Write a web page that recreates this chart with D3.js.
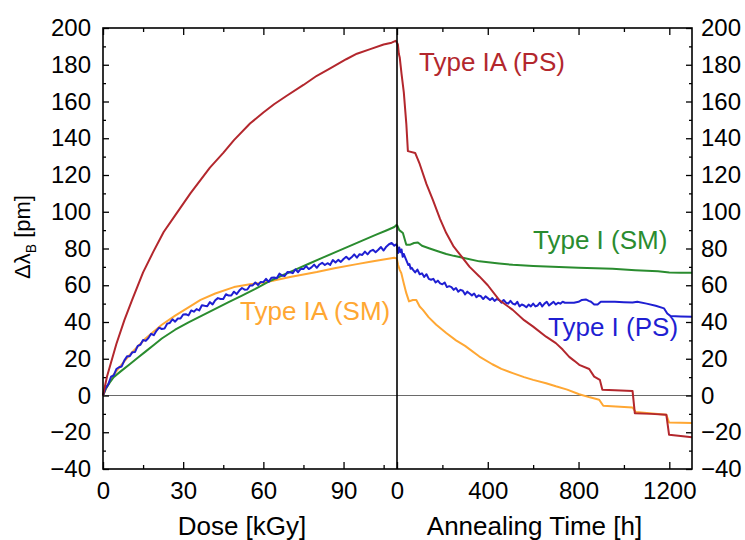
<!DOCTYPE html>
<html>
<head>
<meta charset="utf-8">
<script src="https://cdn.jsdelivr.net/npm/d3@7"></script>
<style>
  body { margin: 0; background: #fff; }
  text { font-family: "Liberation Sans", Arial, Helvetica, sans-serif; }
</style>
</head>
<body>
<div id="chart"></div>
<script>
// ---- data ----
// irradiation: [dose kGy, shift pm]
const redIrr = [[0,0],[1.5,10.3],[5,28],[8,41],[10.9,52],[15,67],[18.75,78],[22.7,89],[27,98],[32.7,110],
  [40,124],[45,132],[49,139],[55,148],[60,154],[64,158.5],[68.6,163],[75,169],[80,174],[85,178],[91,183],
  [95,186],[100,188.5],[105,191],[108,192],[109.5,193],[110,192]];
const greenIrr = [[0,0],[1,3.5],[2.5,7],[4,10],[6.5,13],[10,17],[13,20.5],[16,24],[19,27.5],[22,31],[27,35.8],
  [32,39.8],[37,43.5],[42,47.2],[47,50.8],[52,54.4],[57,58],[62,62],[67,65.3],[72,68.5],[77,71.7],[82,74.9],
  [87,78],[92,81.2],[97,84.3],[102,87.4],[106,89.8],[109,91.7],[110,93]];
const orangeIrr = [[0,0],[0.9,3],[3.4,10.3],[6.5,16],[9.6,21.5],[15.9,31],[22,38.5],[27,43.5],[32,48],
  [36.5,52],[42,55.5],[49,59],[55,60.5],[60.5,61.5],[70,64.5],[80,67.2],[86.6,69.3],[95,71.5],[100,72.8],
  [105,74],[109,75],[110,74.5]];
// Type I (PS) irradiation, one (noisy) reading per kGy from 0 to 110
const blueIrrVals = [0,4.0,6.2,10.2,10.9,14.4,15.4,15.8,19.1,21.3,21.4,23.6,23.7,27.0,27.6,30.2,29.7,31.3,
  33.6,32.8,35.2,36.9,36.2,36.4,39.1,39.5,41.5,40.2,41.9,41.9,44.1,44.2,43.6,46.3,45.6,47.0,46.3,49.1,48.8,
  48.6,50.8,49.6,51.8,53.0,52.5,52.5,55.1,54.4,54.4,56.5,55.2,57.1,58.5,57.6,57.7,59.9,59.9,61.5,60.1,61.8,
  61.7,63.5,61.9,64.1,64.2,63.8,66.3,65.3,65.0,67.2,67.1,66.6,68.7,67.1,68.9,68.8,70.4,68.8,69.7,71.2,69.5,
  71.3,72.2,71.0,72.0,71.1,73.7,72.4,73.8,72.7,74.3,75.5,74.1,75.2,76.8,75.0,76.9,76.5,78.3,76.8,78.6,79.3,
  78.0,79.3,80.8,78.9,81.0,82.3,83.0,81.5,82.5];

// annealing: [time h, shift pm]
const redAnn = [[0,192],[4,191],[8,186],[12,184],[20,175],[30,165],[41,148],[48,133],[80,132],[100,126],
  [130,115],[158,106.5],[190,96],[217,88.4],[250,81],[276,77],[320,70],[363,64.8],[400,60],[450,52],
  [510,46.6],[560,41],[600,37.5],[657,32],[700,28.5],[730,25],[759,21],[780,19],[803,16.7],[847,14.4],
  [869,10.3],[894,8.5],[905,3.1],[960,2.8],[1038,2.5],[1048,-9.6],[1120,-10],[1187,-10.5],[1199,-21.4],
  [1250,-22],[1300,-22.7]];
const greenAnn = [[0,92.9],[10,90],[26,88.4],[41,82],[48,82],[56,82],[75,83],[92,83.3],[110,81.5],[144,80],
  [180,78.5],[217,77],[250,76],[290,75],[363,73],[450,71.8],[510,71.1],[600,70.5],[657,70.2],[800,69.5],
  [950,69],[1050,68.2],[1150,67.6],[1200,67],[1250,66.8],[1300,66.8]];
const orangeAnn = [[0,74],[5,71],[12,68.4],[19,66.6],[30,61],[41,55.7],[53,51.2],[70,52],[85,52],[100,48.4],
  [114,46.6],[140,42.5],[173,38.5],[217,34],[260,30],[300,27],[363,21.2],[420,17],[460,14.5],[510,12.2],
  [560,10],[600,8.5],[657,6.7],[700,5],[750,3.2],[803,0.7],[850,-1],[891,-2.3],[909,-5.6],[1038,-6.5],
  [1052,-9],[1187,-10.5],[1199,-14.7],[1300,-15]];
const blueAnn = [[0,82],[5,77.5],[10,80.5],[15,78],[20,79.5],[25,75.5],[30,77],[35,75.5],[40,74],[45,72.5],
  [50,71],[55,71.5],[60,69],[65,69.5],[70,68.5],[80,67],[90,68.5],[100,66],[110,66.5],[120,64.5],[130,66],
  [140,63.5],[150,63],[160,63.5],[170,61.5],[180,62.5],[190,61],[200,60.5],[210,61.5],[220,59],[230,59.5],
  [240,59],[250,57.5],[260,58.5],[270,56.5],[280,57.5],[290,57],[300,55],[310,56.5],[320,55.5],[330,54.5],
  [340,55.5],[350,53.5],[360,54.5],[370,54],[380,52.5],[390,54],[400,53],[410,52],[420,53],[430,51.5],
  [440,52.5],[450,52],[460,50.5],[470,52],[480,50.5],[490,50],[500,51.5],[510,50],[520,49.5],[530,51],
  [540,48.5],[550,49.5],[560,49],[570,48],[580,49.5],[590,48.5],[600,50],[610,48.5],[620,49],[630,50.5],
  [640,48.5],[650,50],[660,51],[670,49],[680,50],[690,51],[700,49.5],[710,50.5],[720,50],[730,51],[740,50.5],
  [760,50.5],[780,50.5],[800,51],[815,52],[832,52.3],[845,51.5],[855,51],[869,49.5],[884,49.5],[898,51],
  [920,51],[960,51],[1000,50.8],[1038,50.6],[1059,51],[1100,50],[1140,48.8],[1177,47.4],[1191,44.6],
  [1206,43.2],[1250,43],[1300,42.8]];

const doseMajor = [0, 30, 60, 90], doseMinor = [15, 45, 75, 105];
const timeMajor = [0, 400, 800, 1200], timeMinor = [200, 600, 1000];
const yMajor = [-40, -20, 0, 20, 40, 60, 80, 100, 120, 140, 160, 180, 200];
const yMinor = [-30, -10, 10, 30, 50, 70, 90, 110, 130, 150, 170, 190];

const colors = { red: "#b3272d", green: "#2a8c2f", orange: "#ffa733", blue: "#1f1fd2" };

// ---- layout ----
const W = 745, H = 540;
const plotLeft = 103, plotMid = 397, plotRight = 692, plotTop = 28, plotBottom = 469;

const xDose = d3.scaleLinear().domain([0, 110]).range([plotLeft, plotMid]);
const xTime = d3.scaleLinear().domain([0, 1300]).range([plotMid, plotRight]);
const y = d3.scaleLinear().domain([-40, 200]).range([plotBottom, plotTop]);
const fmt = d3.format("d");

const svg = d3.select("#chart").append("svg")
    .attr("width", W)
    .attr("height", H);

// zero line
svg.append("line")
    .attr("x1", plotLeft).attr("x2", plotRight)
    .attr("y1", y(0)).attr("y2", y(0))
    .attr("stroke", "#444")
    .attr("stroke-width", 0.8);

// axes helper: ticks point inward, no domain line
function addAxis(axis, transform, labels) {
    const g = svg.append("g")
        .attr("transform", transform)
        .call(axis);
    g.select(".domain").remove();
    g.selectAll(".tick line").attr("stroke", "#000").attr("stroke-width", 1.3);
    g.selectAll("text")
        .style("font-size", "24px")
        .attr("fill", "#000");
    if (!labels) g.selectAll("text").remove();
    return g;
}

// bottom
addAxis(d3.axisBottom(xDose).tickValues(doseMajor).tickFormat(fmt).tickSize(-7).tickPadding(13), `translate(0,${plotBottom})`, true);
addAxis(d3.axisBottom(xDose).tickValues(doseMinor).tickSize(-4).tickFormat(""), `translate(0,${plotBottom})`, false);
addAxis(d3.axisBottom(xTime).tickValues(timeMajor).tickFormat(fmt).tickSize(-7).tickPadding(13), `translate(0,${plotBottom})`, true);
addAxis(d3.axisBottom(xTime).tickValues(timeMinor).tickSize(-4).tickFormat(""), `translate(0,${plotBottom})`, false);
// top
addAxis(d3.axisTop(xDose).tickValues(doseMajor).tickSize(-7), `translate(0,${plotTop})`, false);
addAxis(d3.axisTop(xDose).tickValues(doseMinor).tickSize(-4), `translate(0,${plotTop})`, false);
addAxis(d3.axisTop(xTime).tickValues(timeMajor).tickSize(-7), `translate(0,${plotTop})`, false);
addAxis(d3.axisTop(xTime).tickValues(timeMinor).tickSize(-4), `translate(0,${plotTop})`, false);
// left
addAxis(d3.axisLeft(y).tickValues(yMajor).tickFormat(fmt).tickSize(-6).tickPadding(12), `translate(${plotLeft},0)`, true);
addAxis(d3.axisLeft(y).tickValues(yMinor).tickSize(-3).tickFormat(""), `translate(${plotLeft},0)`, false);
// right
addAxis(d3.axisRight(y).tickValues(yMajor).tickFormat(fmt).tickSize(-6).tickPadding(9), `translate(${plotRight},0)`, true);
addAxis(d3.axisRight(y).tickValues(yMinor).tickSize(-3).tickFormat(""), `translate(${plotRight},0)`, false);

// data lines
const lineDose = d3.line().x(d => xDose(d[0])).y(d => y(d[1]));
const lineTime = d3.line().x(d => xTime(d[0])).y(d => y(d[1]));
const blueIrr = blueIrrVals.map((v, i) => [i, v]);

const series = [
    { irr: orangeIrr, ann: orangeAnn, color: colors.orange },
    { irr: greenIrr, ann: greenAnn, color: colors.green },
    { irr: blueIrr, ann: blueAnn, color: colors.blue },
    { irr: redIrr, ann: redAnn, color: colors.red }
];

series.forEach(s => {
    svg.append("path")
        .datum(s.irr)
        .attr("fill", "none")
        .attr("stroke", s.color)
        .attr("stroke-width", 2)
        .attr("stroke-linejoin", "round")
        .attr("d", lineDose);
    svg.append("path")
        .datum(s.ann)
        .attr("fill", "none")
        .attr("stroke", s.color)
        .attr("stroke-width", 2)
        .attr("stroke-linejoin", "round")
        .attr("d", lineTime);
});

// frame and divider
svg.append("rect")
    .attr("x", plotLeft).attr("y", plotTop)
    .attr("width", plotRight - plotLeft).attr("height", plotBottom - plotTop)
    .attr("fill", "none")
    .attr("stroke", "#000")
    .attr("stroke-width", 1.6);

svg.append("line")
    .attr("x1", plotMid).attr("x2", plotMid)
    .attr("y1", plotTop).attr("y2", plotBottom)
    .attr("stroke", "#000")
    .attr("stroke-width", 1.6);

// series labels
const labels = [
    { text: "Type IA (PS)", x: 419, y: 71, color: colors.red },
    { text: "Type I (SM)", x: 533, y: 249, color: colors.green },
    { text: "Type IA (SM)", x: 240, y: 320, color: colors.orange },
    { text: "Type I (PS)", x: 548, y: 336, color: colors.blue }
];
svg.selectAll(".series-label")
    .data(labels)
    .join("text")
    .attr("class", "series-label")
    .attr("x", d => d.x)
    .attr("y", d => d.y)
    .attr("fill", d => d.color)
    .style("font-size", "26px")
    .text(d => d.text);

// axis titles
svg.append("text")
    .attr("x", (plotLeft + plotMid) / 2 - 8)
    .attr("y", 535)
    .attr("text-anchor", "middle")
    .style("font-size", "26px")
    .text("Dose [kGy]");

svg.append("text")
    .attr("x", (plotMid + plotRight) / 2 - 10)
    .attr("y", 535)
    .attr("text-anchor", "middle")
    .style("font-size", "26px")
    .text("Annealing Time [h]");

const yTitle = svg.append("text")
    .attr("transform", "translate(30,237) rotate(-90)")
    .attr("text-anchor", "middle")
    .style("font-size", "22px");
yTitle.append("tspan").text("\u0394\u03bb");
yTitle.append("tspan").attr("dy", 6).style("font-size", "14px").text("B");
yTitle.append("tspan").attr("dy", -6).text(" [pm]");
</script>
</body>
</html>
